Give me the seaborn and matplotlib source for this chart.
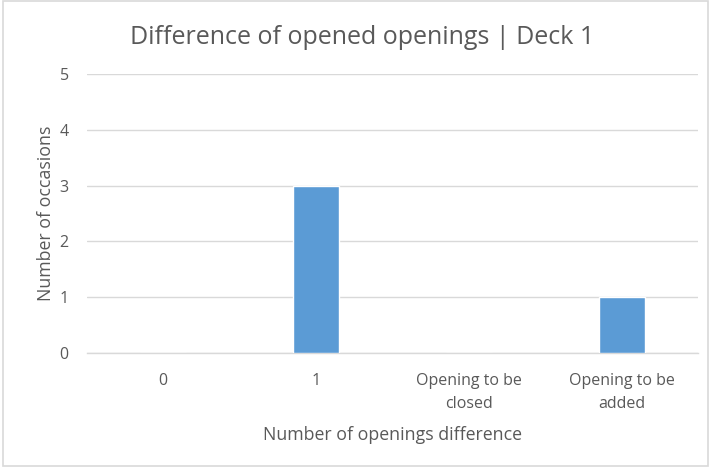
import matplotlib
matplotlib.use("Agg")
import matplotlib.pyplot as plt
import seaborn as sns
import pandas as pd
from matplotlib.patches import Rectangle

categories = ["0", "1", "Opening to be\nclosed", "Opening to be\nadded"]
values = [0, 3, 0, 1]
yticks = [0, 1, 2, 3, 4, 5]

sns.set_theme(style="white")
plt.rcParams['font.family'] = ['Open Sans', 'DejaVu Sans']

txt = "#595959"
grid = "#D9D9D9"

fig = plt.figure(figsize=(7.11, 4.72), dpi=100)
ax = fig.add_axes([0.122, 0.252, 0.860, 0.591])

df = pd.DataFrame({"cat": categories, "val": values})
sns.barplot(data=df, x="cat", y="val", color="#5B9BD5", width=0.30,
            saturation=1, ax=ax, zorder=3)

ax.set_ylim(0, 5)
ax.set_yticks(yticks)
ax.set_yticklabels([str(t) for t in yticks])
ax.set_xlim(-0.5, 3.5)
ax.yaxis.grid(True, color=grid, linewidth=1)
ax.set_axisbelow(True)
for s in ["top", "right", "left"]:
    ax.spines[s].set_visible(False)
ax.spines["bottom"].set_color(grid)
ax.spines["bottom"].set_linewidth(1)
ax.tick_params(axis="both", length=0, labelsize=11.5, colors=txt)
ax.tick_params(axis="x", pad=14)
ax.tick_params(axis="y", pad=13)
for lbl in ax.get_xticklabels():
    lbl.set_linespacing(1.6)

ax.set_xlabel("Number of openings difference", fontsize=12.8, color=txt, labelpad=10)
ax.set_ylabel("Number of occasions", fontsize=12.8, color=txt, labelpad=3)
fig.text(0.51, 0.921, "Difference of opened openings | Deck 1", ha="center",
         va="center", fontsize=18, color=txt)

fig.patches.append(Rectangle((0.004, 0.012), 0.992, 0.985, transform=fig.transFigure,
                             fill=False, edgecolor="#D9D9D9", linewidth=1.2))

fig.savefig("out.png", dpi=100)
